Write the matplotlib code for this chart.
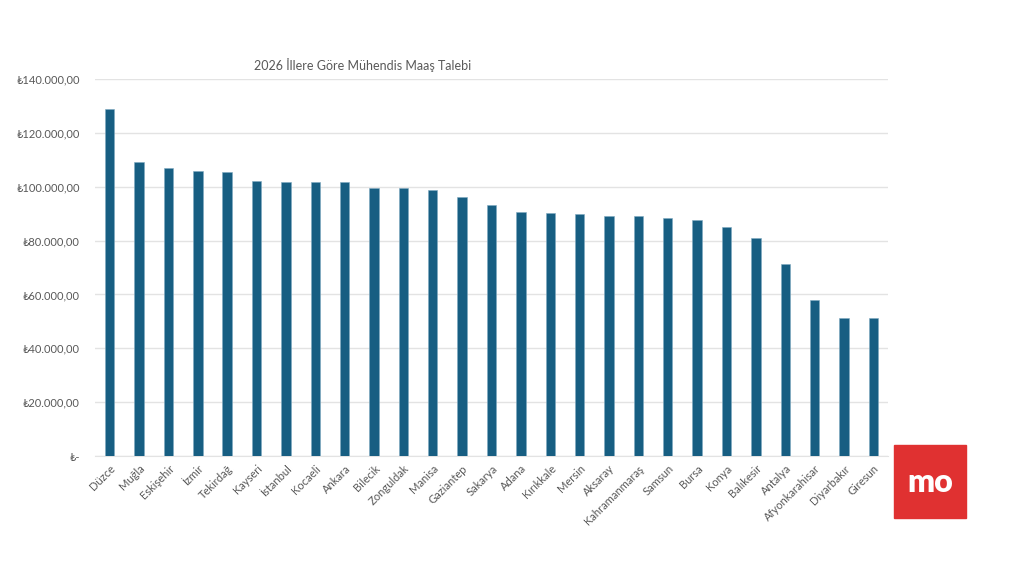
import matplotlib.pyplot as plt
from matplotlib.patches import Rectangle
from matplotlib.ticker import FuncFormatter

cities = ["Düzce", "Muğla", "Eskişehir", "İzmir", "Tekirdağ", "Kayseri", "İstanbul",
          "Kocaeli", "Ankara", "Bilecik", "Zonguldak", "Manisa", "Gaziantep", "Sakarya",
          "Adana", "Kırıkkale", "Mersin", "Aksaray", "Kahramanmaraş", "Samsun", "Bursa",
          "Konya", "Balıkesir", "Antalya", "Afyonkarahisar", "Diyarbakır", "Giresun"]
salaries = [128900, 109100, 107100, 106000, 105400, 102000, 101650,
            101650, 101650, 99500, 99500, 98900, 96300, 93100,
            90700, 90150, 89900, 89200, 89200, 88450, 87550,
            85200, 81000, 71400, 57850, 51100, 51100]
yticks = [0, 20000, 40000, 60000, 80000, 100000, 120000, 140000]

FONT = ["Lato", "DejaVu Sans"]
GREY = "#595959"


def tl(v, pos=None):
    if v == 0:
        return "₺-"
    return "₺" + f"{v:,.2f}".replace(",", "X").replace(".", ",").replace("X", ".")


fig = plt.figure(figsize=(10.24, 5.76), dpi=100)
ax = fig.add_axes([0.0928, 0.2083, 0.7744, 0.6545])

x = range(len(cities))
ax.bar(x, salaries, width=0.32, color="#175E82", edgecolor="#7FA9C0", linewidth=0.4, zorder=3)

ax.set_xlim(-0.5, len(cities) - 0.5)
ax.set_ylim(0, 140000)
ax.set_yticks(yticks)
ax.yaxis.set_major_formatter(FuncFormatter(tl))
ax.grid(axis="y", color="#E3E3E3", linewidth=1, zorder=0)
for s in ["top", "right", "left"]:
    ax.spines[s].set_visible(False)
ax.spines["bottom"].set_color("#E3E3E3")
ax.tick_params(axis="both", length=0, colors=GREY, labelsize=8)
ax.tick_params(axis="y", pad=11)
ax.tick_params(axis="x", pad=5)
ax.set_xticks(list(x))
ax.set_xticklabels(cities, rotation=45, ha="right", rotation_mode="anchor", family=FONT)
for lab in ax.get_yticklabels():
    lab.set_family(FONT)

fig.text(0.354, 0.887, "2026 İllere Göre Mühendis Maaş Talebi", ha="center", va="center",
         fontsize=9, color=GREY, family=FONT)

# logo
fig.patches.append(Rectangle((894 / 1024, 1 - 518 / 576), 72 / 1024, 73 / 576,
                             transform=fig.transFigure, color="#E03131", zorder=5))
fig.text(930 / 1024, 1 - 482 / 576, "mo", ha="center", va="center", color="white",
         fontsize=23, fontweight="heavy", family=FONT, zorder=6)

fig.savefig("out.png", dpi=100)
